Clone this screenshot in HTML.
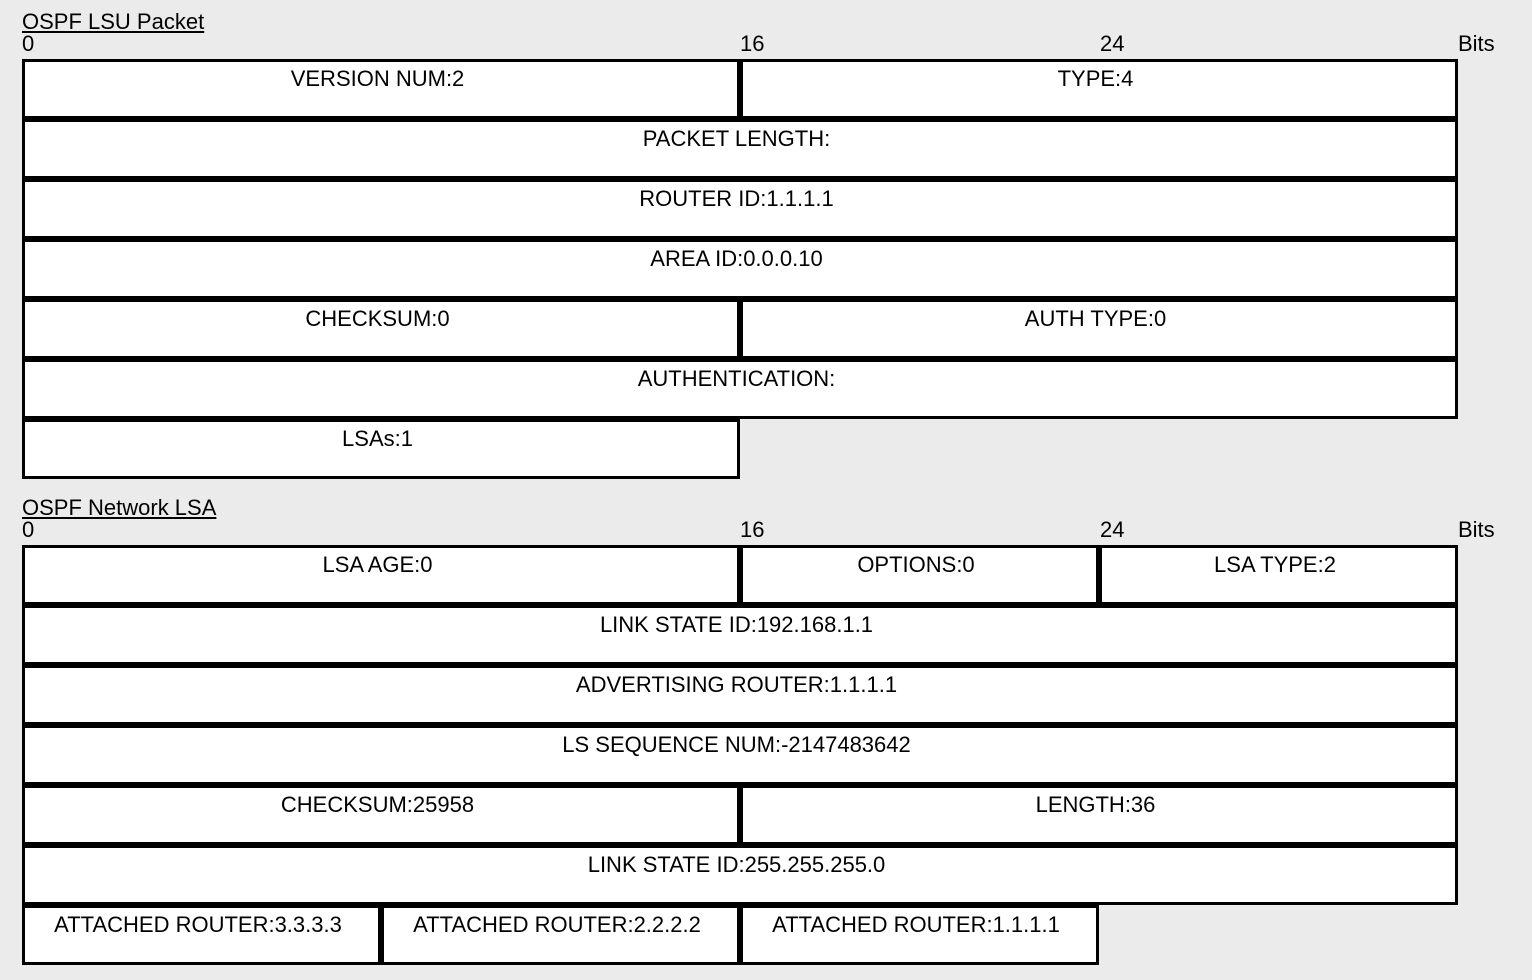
<!DOCTYPE html>
<html><head><style>
body{margin:0;width:1532px;height:980px;background:#ebebeb;font-family:"Liberation Sans",Arial,sans-serif;position:relative;overflow:hidden}
.t{position:absolute;font-size:22px;color:#000;line-height:22px}
.b{position:absolute;box-sizing:border-box;border:3.5px solid #000;background:#fff;text-align:center;font-size:22px;line-height:22px;padding-top:6px;padding-right:7px;height:60px}
</style></head><body>
<div class="t" style="left:22px;top:11px;text-decoration:underline">OSPF LSU Packet</div>
<div class="t" style="left:22px;top:33px">0</div>
<div class="t" style="left:740px;top:33px">16</div>
<div class="t" style="left:1100px;top:33px">24</div>
<div class="t" style="left:1458px;top:33px">Bits</div>

<div class="b" style="left:22px;top:59px;width:718px">VERSION NUM:2</div>
<div class="b" style="left:740px;top:59px;width:718px">TYPE:4</div>
<div class="b" style="left:22px;top:119px;width:1436px">PACKET LENGTH:</div>
<div class="b" style="left:22px;top:179px;width:1436px">ROUTER ID:1.1.1.1</div>
<div class="b" style="left:22px;top:239px;width:1436px">AREA ID:0.0.0.10</div>
<div class="b" style="left:22px;top:299px;width:718px">CHECKSUM:0</div>
<div class="b" style="left:740px;top:299px;width:718px">AUTH TYPE:0</div>
<div class="b" style="left:22px;top:359px;width:1436px">AUTHENTICATION:</div>
<div class="b" style="left:22px;top:419px;width:718px">LSAs:1</div>

<div class="t" style="left:22px;top:497px;text-decoration:underline">OSPF Network LSA</div>
<div class="t" style="left:22px;top:519px">0</div>
<div class="t" style="left:740px;top:519px">16</div>
<div class="t" style="left:1100px;top:519px">24</div>
<div class="t" style="left:1458px;top:519px">Bits</div>

<div class="b" style="left:22px;top:545px;width:718px">LSA AGE:0</div>
<div class="b" style="left:740px;top:545px;width:359px">OPTIONS:0</div>
<div class="b" style="left:1099px;top:545px;width:359px">LSA TYPE:2</div>
<div class="b" style="left:22px;top:605px;width:1436px">LINK STATE ID:192.168.1.1</div>
<div class="b" style="left:22px;top:665px;width:1436px">ADVERTISING ROUTER:1.1.1.1</div>
<div class="b" style="left:22px;top:725px;width:1436px">LS SEQUENCE NUM:-2147483642</div>
<div class="b" style="left:22px;top:785px;width:718px">CHECKSUM:25958</div>
<div class="b" style="left:740px;top:785px;width:718px">LENGTH:36</div>
<div class="b" style="left:22px;top:845px;width:1436px">LINK STATE ID:255.255.255.0</div>
<div class="b" style="left:22px;top:905px;width:359px">ATTACHED ROUTER:3.3.3.3</div>
<div class="b" style="left:381px;top:905px;width:359px">ATTACHED ROUTER:2.2.2.2</div>
<div class="b" style="left:740px;top:905px;width:359px">ATTACHED ROUTER:1.1.1.1</div>
</body></html>
